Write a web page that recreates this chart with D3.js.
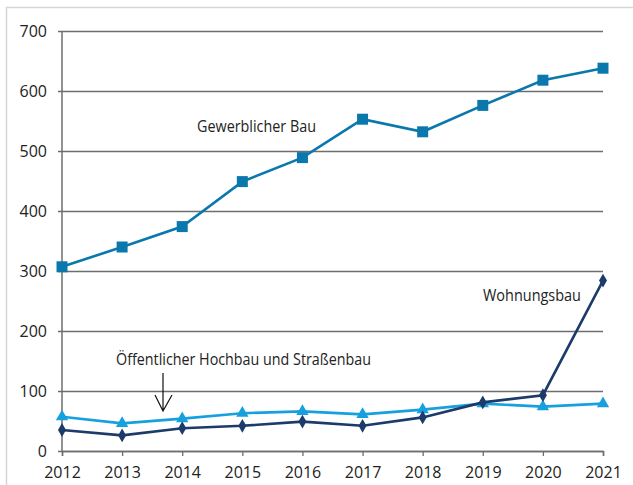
<!DOCTYPE html>
<html>
<head>
<meta charset="utf-8">
<script src="https://cdn.jsdelivr.net/npm/d3@7"></script>
<style>
  body { margin: 0; background: #fff; }
  svg { display: block; font-family: "Open Sans", sans-serif; }
</style>
</head>
<body>
<div id="chart"></div>
<script>
// values
const years = [2012, 2013, 2014, 2015, 2016, 2017, 2018, 2019, 2020, 2021];
const gewerblich = [307, 340, 374, 449, 489, 553, 532, 576, 618, 638];
const wohnungsbau = [35, 26, 38, 42, 49, 42, 56, 81, 93, 284];
const oeffentlich = [57, 46, 54, 63, 66, 61, 69, 79, 74, 79];
const yTicks = [0, 100, 200, 300, 400, 500, 600, 700];

const W = 633, H = 485;
const margin = { top: 31, right: 30, bottom: 34, left: 62 };
const width = W - margin.left - margin.right;
const height = H - margin.top - margin.bottom;

const svg = d3.select("#chart").append("svg")
    .attr("width", W)
    .attr("height", H);

// light frame around the figure
svg.append("path")
    .attr("d", `M6.5,${H} V7.5 H${W}`)
    .attr("fill", "none")
    .attr("stroke", "#d6d6d6")
    .attr("stroke-width", 1.5);

const g = svg.append("g")
    .attr("transform", `translate(${margin.left},${margin.top})`);

const x = d3.scalePoint()
    .domain(years)
    .range([0, width]);

const y = d3.scaleLinear()
    .domain([0, 700])
    .range([height, 0]);

// horizontal grid with small left ticks
g.append("g")
    .call(d3.axisLeft(y).tickValues(yTicks).tickSize(-width).tickPadding(15))
    .call(a => a.select(".domain").remove())
    .call(a => a.selectAll(".tick line")
        .attr("x1", -4)
        .attr("stroke", "#6e6e6e")
        .attr("stroke-width", 1.3))
    .call(a => a.selectAll("text")
        .attr("fill", "#222")
        .style("font-size", "16px")
        .style("font-family", "Open Sans, sans-serif"));

// y axis line
g.append("line")
    .attr("x1", 0).attr("x2", 0)
    .attr("y1", 0).attr("y2", height)
    .attr("stroke", "#6e6e6e")
    .attr("stroke-width", 1.5);

// x axis
g.append("g")
    .attr("transform", `translate(0,${height})`)
    .call(d3.axisBottom(x).tickSize(5).tickPadding(11))
    .call(a => a.select(".domain")
        .attr("stroke", "#6e6e6e")
        .attr("stroke-width", 1.5))
    .call(a => a.selectAll(".tick line")
        .attr("stroke", "#6e6e6e")
        .attr("stroke-width", 1.3))
    .call(a => a.selectAll("text")
        .attr("fill", "#222")
        .style("font-size", "16px")
        .style("font-family", "Open Sans, sans-serif"));

const line = d3.line()
    .x((d, i) => x(years[i]))
    .y(d => y(d));

const series = [
    { values: oeffentlich, color: "#16a0de", symbol: d3.symbolTriangle, size: 66 },
    { values: wohnungsbau, color: "#1c3a6a", symbol: d3.symbolDiamond, size: 55 },
    { values: gewerblich, color: "#0a78ac", symbol: d3.symbolSquare, size: 121 }
];

series.forEach(s => {
    g.append("path")
        .datum(s.values)
        .attr("fill", "none")
        .attr("stroke", s.color)
        .attr("stroke-width", 2.6)
        .attr("d", line);

    g.selectAll(null)
        .data(s.values)
        .enter().append("path")
        .attr("transform", (d, i) => `translate(${x(years[i])},${y(d)})`)
        .attr("d", d3.symbol().type(s.symbol).size(s.size))
        .attr("fill", s.color);
});

// series labels
const labels = [
    { text: "Gewerblicher Bau", x: 197, y: 132, w: 119 },
    { text: "Wohnungsbau", x: 483, y: 301, w: 98 },
    { text: "Öffentlicher Hochbau und Straßenbau", x: 116, y: 365, w: 255 }
];

svg.selectAll(".lbl")
    .data(labels)
    .enter().append("text")
    .attr("class", "lbl")
    .attr("x", d => d.x)
    .attr("y", d => d.y)
    .attr("textLength", d => d.w)
    .attr("lengthAdjust", "spacingAndGlyphs")
    .attr("fill", "#222")
    .style("font-size", "15.5px")
    .text(d => d.text);

// arrow pointing to the public construction line
svg.append("path")
    .attr("d", "M163,373 V411 M155,395 L163,411 L172,395")
    .attr("fill", "none")
    .attr("stroke", "#111")
    .attr("stroke-width", 1.2);
</script>
</body>
</html>
